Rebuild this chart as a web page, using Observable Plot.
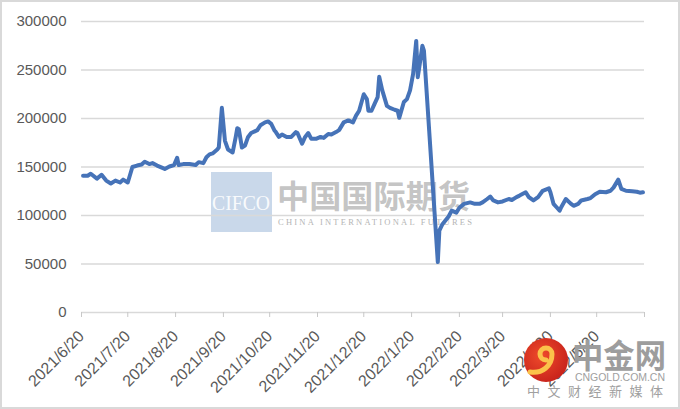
<!DOCTYPE html>
<html><head><meta charset="utf-8">
<script src="https://cdn.jsdelivr.net/npm/d3@7"></script>
<script src="https://cdn.jsdelivr.net/npm/@observablehq/plot@0.6"></script>
<style>
html,body{margin:0;padding:0;background:#fff;}
#wrap{position:relative;width:680px;height:409px;overflow:hidden;background:#fff;}
#chart{position:absolute;left:0;top:0;}
.wm{position:absolute;left:0;top:0;pointer-events:none;}
#frame{position:absolute;left:0;top:0;width:680px;height:409px;box-sizing:border-box;border:2px solid #d9d9d9;pointer-events:none;}
</style></head>
<body>
<div id="wrap">
<svg class="wm" width="680" height="409">
  <rect x="211" y="172" width="61" height="60" fill="#c9d8ea"/>
  <text x="212" y="210" font-family="'Liberation Serif', serif" font-size="20" fill="#ffffff" fill-opacity="0.9" textLength="58" lengthAdjust="spacingAndGlyphs">CIFCO</text>
  <text x="277" y="208" font-family="'Noto Sans CJK SC'" font-weight="700" font-size="32" fill="#a3a3a3" fill-opacity="0.65" textLength="193" lengthAdjust="spacingAndGlyphs">中国国际期货</text>
  <text x="278" y="225" font-family="'Liberation Serif', serif" font-size="8.5" fill="#b5b5b5" textLength="194">CHINA INTERNATIONAL FUTURES</text>
</svg>
<div id="chart"></div>
<svg class="wm" width="680" height="409">
  <defs><radialGradient id="rg" cx="0.4" cy="0.4" r="0.7"><stop offset="0" stop-color="#ef4b2b"/><stop offset="1" stop-color="#c41f1a"/></radialGradient></defs>
  <circle cx="546" cy="360" r="22" fill="url(#rg)"/>
  <path d="M546,360 a6,6 0 1 1 6,-6 c0,12 -10,20 -22,18" fill="none" stroke="#fbc24a" stroke-width="5" stroke-linecap="round"/>
  <text x="572" y="368" font-family="'Noto Sans CJK SC'" font-weight="700" font-size="33" fill="#9d9d9d" textLength="94" lengthAdjust="spacingAndGlyphs">中金网</text>
  <text x="575" y="381" font-family="'Liberation Sans', Arial, sans-serif" font-size="10.5" fill="#a0a0a0" textLength="90">CNGOLD.COM.CN</text>
  <text x="527" y="396" font-family="'Noto Sans CJK SC'" font-size="13" fill="#a0a0a0" textLength="136">中文财经新媒体</text>
</svg>
<div id="frame"></div>
</div>
<script>
const dates = [
"2021-06-21","2021-06-24","2021-06-26","2021-06-30","2021-07-03","2021-07-06","2021-07-09","2021-07-12","2021-07-15","2021-07-17",
"2021-07-20","2021-07-23","2021-07-26","2021-07-29","2021-07-31","2021-08-03","2021-08-05","2021-08-08","2021-08-13","2021-08-16",
"2021-08-19","2021-08-21","2021-08-22","2021-08-25","2021-08-29","2021-09-02","2021-09-04","2021-09-07","2021-09-09","2021-09-11",
"2021-09-13","2021-09-16","2021-09-17","2021-09-19","2021-09-21","2021-09-23","2021-09-26","2021-09-28","2021-09-29","2021-09-30",
"2021-10-02","2021-10-04","2021-10-06","2021-10-08","2021-10-12","2021-10-14","2021-10-17","2021-10-19","2021-10-21","2021-10-23",
"2021-10-24","2021-10-26","2021-10-28","2021-10-31","2021-11-03","2021-11-06","2021-11-07","2021-11-10","2021-11-12","2021-11-14",
"2021-11-16","2021-11-19","2021-11-22","2021-11-24","2021-11-27","2021-11-29","2021-12-02","2021-12-04","2021-12-07","2021-12-10",
"2021-12-13","2021-12-15","2021-12-17","2021-12-20","2021-12-22","2021-12-23","2021-12-25","2021-12-27","2021-12-29","2021-12-30",
"2022-01-01","2022-01-04","2022-01-06","2022-01-09","2022-01-11","2022-01-12","2022-01-15","2022-01-17","2022-01-19","2022-01-21",
"2022-01-23","2022-01-24","2022-01-25","2022-01-27","2022-01-28","2022-02-06","2022-02-07","2022-02-09","2022-02-13","2022-02-15",
"2022-02-18","2022-02-20","2022-02-23","2022-02-27","2022-03-02","2022-03-05","2022-03-07","2022-03-10","2022-03-12","2022-03-14",
"2022-03-17","2022-03-20","2022-03-24","2022-03-26","2022-03-29","2022-03-31","2022-04-04","2022-04-06","2022-04-09","2022-04-12",
"2022-04-15","2022-04-19","2022-04-20","2022-04-22","2022-04-24","2022-04-26","2022-04-27","2022-04-30","2022-05-03","2022-05-05",
"2022-05-08","2022-05-10","2022-05-14","2022-05-16","2022-05-19","2022-05-22","2022-05-26","2022-05-29","2022-05-31","2022-06-03",
"2022-06-05","2022-06-08","2022-06-12","2022-06-15","2022-06-17","2022-06-19"
];
const values = [
141000,141000,143000,138000,142000,136000,133000,136000,134000,137000,
134000,150000,151500,152500,155500,153000,154000,151500,148000,150500,
152000,159500,152000,153000,153000,152000,155000,154000,160000,163000,
164000,168000,170000,211000,177000,168000,165000,181000,190000,189000,
170000,172000,181000,185000,188000,193000,196000,197000,194500,188000,
186000,181000,183500,181000,181000,186000,185000,174000,181000,185000,
179000,179000,181000,180000,184000,183500,186000,188000,196000,198000,
196000,203000,208000,225000,220000,208000,208000,215000,222000,243000,
229000,213000,211000,209000,208000,200700,217000,220000,229000,246000,
280000,242600,253000,275000,270000,52000,84500,91000,99000,105000,
103000,108000,112000,113500,112000,112000,113500,117000,119500,115500,
113500,114500,117000,116000,119000,120500,124000,119000,115500,119000,
125500,128000,124000,112000,108500,105000,108500,117000,112500,110000,
112000,115500,117000,118000,122000,124500,124000,125500,129000,137000,
127500,125500,125000,124500,123500,124000
];
const yTicks = [0, 50000, 100000, 150000, 200000, 250000, 300000];
const xTicks = ["2021/6/20","2021/7/20","2021/8/20","2021/9/20","2021/10/20","2021/11/20","2021/12/20",
                "2022/1/20","2022/2/20","2022/3/20","2022/4/20","2022/5/20","2022/6/20"];

const parseISO = d3.utcParse("%Y-%m-%d");
const parseTick = d3.utcParse("%Y/%m/%d");
const data = dates.map((d, i) => ({date: parseISO(d), value: values[i]}));
const tickDates = xTicks.map(parseTick);
const lastTick = tickDates[tickDates.length - 1];
const fmt = d => `${d.getUTCFullYear()}/${d.getUTCMonth() + 1}/${d.getUTCDate()}`;

const chart = Plot.plot({
  width: 680, height: 409,
  marginLeft: 81, marginRight: 36, marginTop: 21, marginBottom: 97,
  style: {fontFamily: "'Liberation Sans', Arial, sans-serif", fontSize: "15px", color: "#595959", background: "transparent", overflow: "visible"},
  x: {type: "utc", domain: [tickDates[0], lastTick]},
  y: {domain: [0, 300000]},
  marks: [
    Plot.ruleY(yTicks, {stroke: "#d9d9d9", strokeWidth: 1.3}),
    Plot.axisY({ticks: yTicks, tickSize: 0, tickPadding: 15, tickFormat: d3.format("d"), label: null, fill: "#595959"}),
    Plot.axisX({ticks: tickDates, tickSize: 5, tickPadding: 16, tickRotate: -45, label: null, fontSize: 16,
      tickFormat: d => (+d === +lastTick ? "" : fmt(d)), stroke: "#c8c8c8", fill: "#595959"}),
    Plot.lineY(data, {x: "date", y: "value", stroke: "#4673b8", strokeWidth: 4, strokeLinejoin: "round", strokeLinecap: "round"})
  ]
});
document.getElementById("chart").appendChild(chart);
</script>
</body></html>
